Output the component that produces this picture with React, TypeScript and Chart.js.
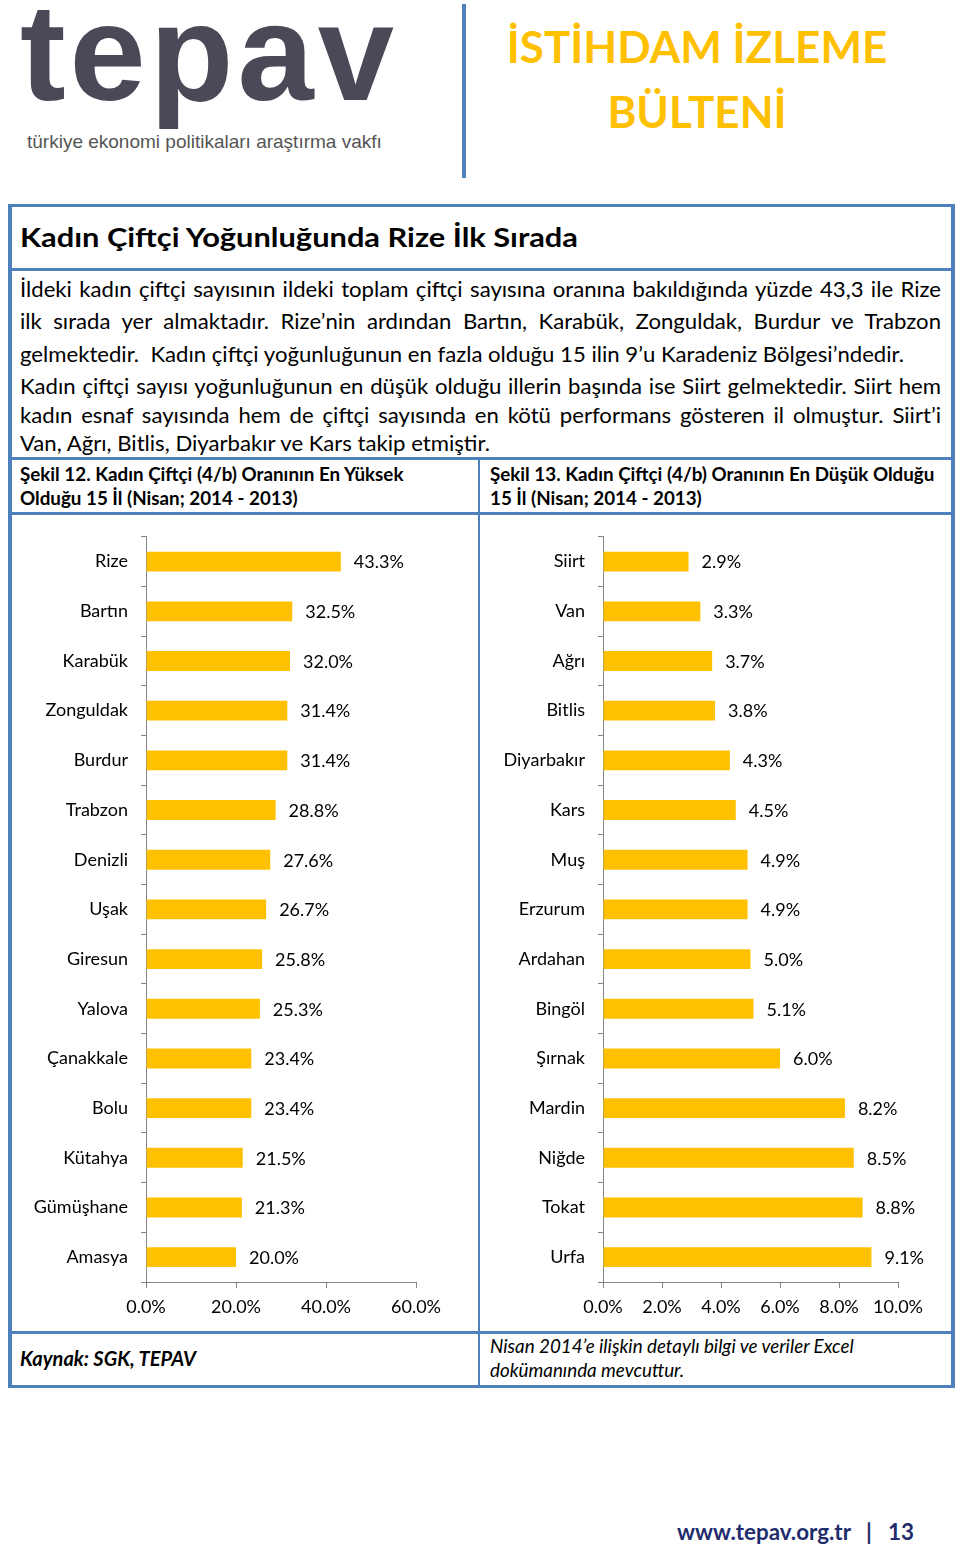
import React, { useEffect, useRef } from 'react';
import { Chart, registerables } from 'chart.js';

Chart.register(...registerables);

// ---- Data ----
const highCities = ['Rize', 'Bartın', 'Karabük', 'Zonguldak', 'Burdur', 'Trabzon', 'Denizli', 'Uşak', 'Giresun', 'Yalova', 'Çanakkale', 'Bolu', 'Kütahya', 'Gümüşhane', 'Amasya'];
const highValues = [43.3, 32.5, 32.0, 31.4, 31.4, 28.8, 27.6, 26.7, 25.8, 25.3, 23.4, 23.4, 21.5, 21.3, 20.0];
const highTicks = [0, 20, 40, 60];

const lowCities = ['Siirt', 'Van', 'Ağrı', 'Bitlis', 'Diyarbakır', 'Kars', 'Muş', 'Erzurum', 'Ardahan', 'Bingöl', 'Şırnak', 'Mardin', 'Niğde', 'Tokat', 'Urfa'];
const lowValues = [2.9, 3.3, 3.7, 3.8, 4.3, 4.5, 4.9, 4.9, 5.0, 5.1, 6.0, 8.2, 8.5, 8.8, 9.1];
const lowTicks = [0, 2, 4, 6, 8, 10];

const BAR = '#ffc000';
const AXIS = '#868686';
const BLUE = '#4f81bd';
const FONT = 'Lato';

const valueLabels = {
  id: 'valueLabels',
  afterDatasetsDraw(chart: any) {
    const ctx = chart.ctx;
    const meta = chart.getDatasetMeta(0);
    const data = chart.data.datasets[0].data as number[];
    ctx.save();
    ctx.font = `18px ${FONT}`;
    ctx.fillStyle = '#000';
    ctx.textAlign = 'left';
    ctx.textBaseline = 'middle';
    meta.data.forEach((bar: any, i: number) => {
      ctx.fillText(`${data[i].toFixed(1)}%`, bar.x + 13, bar.y + 1);
    });
    ctx.restore();
  },
};

type BarProps = {
  labels: string[];
  values: number[];
  ticks: number[];
  left: number;
  top: number;
  width: number;
  height: number;
  yWidth: number;
  padRight: number;
};

function HBar({ labels, values, ticks, left, top, width, height, yWidth, padRight }: BarProps) {
  const ref = useRef<HTMLCanvasElement>(null);
  useEffect(() => {
    if (!ref.current) return;
    const font = { family: FONT, size: 18 };
    const chart = new Chart(ref.current, {
      type: 'bar',
      data: {
        labels,
        datasets: [{ data: values, backgroundColor: BAR, barPercentage: 0.4, categoryPercentage: 1 }],
      },
      options: {
        indexAxis: 'y',
        animation: false,
        responsive: false,
        maintainAspectRatio: false,
        layout: { padding: { top: 0, right: padRight, left: 0, bottom: 0 } },
        plugins: { legend: { display: false }, tooltip: { enabled: false } },
        scales: {
          x: {
            min: ticks[0],
            max: ticks[ticks.length - 1],
            afterBuildTicks: (s: any) => {
              s.ticks = ticks.map((v) => ({ value: v }));
            },
            ticks: {
              font,
              color: '#000',
              padding: 8,
              maxRotation: 0,
              autoSkip: false,
              callback: (v: any) => `${Number(v).toFixed(1)}%`,
            },
            grid: { drawOnChartArea: false, tickLength: 6, color: AXIS },
            border: { color: AXIS },
            afterFit: (s: any) => {
              s.height = 39;
            },
          },
          y: {
            ticks: { font, color: '#000', padding: 13, autoSkip: false },
            grid: { drawOnChartArea: false, tickLength: 5, color: AXIS, offset: true },
            border: { color: AXIS },
            afterFit: (s: any) => {
              s.width = yWidth;
            },
          },
        },
      },
      plugins: [valueLabels],
    } as any);
    return () => chart.destroy();
  }, []);
  return (
    <canvas
      ref={ref}
      width={width}
      height={height}
      style={{ position: 'absolute', left, top, width, height }}
    />
  );
}

// Text helper: positions text by baseline (Lato: ascent .987, descent .213)
function T({
  x, base, size, children, weight = 400, italic = false, color = '#000', width, align, last, center, sx = 1, ls = 0,
}: any) {
  const lh = 1.2 * size;
  const style: React.CSSProperties = {
    position: 'absolute',
    top: base - 0.987 * size,
    fontFamily: FONT,
    fontSize: size,
    fontWeight: weight,
    fontStyle: italic ? 'italic' : 'normal',
    color,
    lineHeight: `${lh}px`,
    whiteSpace: width ? 'normal' : 'nowrap',
    letterSpacing: ls,
  };
  if (center !== undefined) {
    style.left = center - 300;
    style.width = 600;
    style.textAlign = 'center';
  } else {
    style.left = x;
  }
  if (width) {
    style.width = width / sx;
    style.textAlign = align || 'left';
    if (last) style.textAlignLast = last as any;
  }
  if (sx !== 1) {
    style.transform = `scaleX(${sx})`;
    style.transformOrigin = 'left top';
  }
  return <div style={style}>{children}</div>;
}

const Box = ({ l, t, w, h, c = BLUE }: any) => (
  <div style={{ position: 'absolute', left: l, top: t, width: w, height: h, background: c }} />
);

export default function App() {
  useEffect(() => {
    document.body.style.margin = '0';
    document.body.style.background = '#fff';
  }, []);
  const P = 20.5;
  const PS = 1.08;
  return (
    <div style={{ position: 'absolute', left: 0, top: 0, width: 960, height: 1549, background: '#fff', overflow: 'hidden' }}>
      {/* Header */}
      <div
        style={{
          position: 'absolute',
          left: 20,
          top: 100 - 0.905 * 137,
          fontFamily: '"Liberation Sans", Arial, sans-serif',
          fontWeight: 700,
          fontSize: 137,
          lineHeight: `${1.117 * 137}px`,
          letterSpacing: 4,
          color: '#4b4858',
          whiteSpace: 'nowrap',
        }}
      >
        tepav
      </div>
      <div
        style={{
          position: 'absolute',
          left: 27,
          top: 148 - 0.905 * 19,
          fontFamily: '"Liberation Sans", Arial, sans-serif',
          fontSize: 19,
          lineHeight: `${1.117 * 19}px`,
          color: '#555',
          whiteSpace: 'nowrap',
        }}
      >
        türkiye ekonomi politikaları araştırma vakfı
      </div>
      <Box l={462} t={4} w={4} h={174} c={BLUE} />
      <T center={697} base={63} size={44} weight={700} color="#ffc000">İSTİHDAM İZLEME</T>
      <T center={697} base={128} size={44} weight={700} color="#ffc000">BÜLTENİ</T>

      {/* Main box borders */}
      <Box l={8} t={204} w={947} h={3} />
      <Box l={8} t={1385} w={947} h={3} />
      <Box l={8} t={204} w={4} h={1184} />
      <Box l={951} t={204} w={4} h={1184} />
      <Box l={8} t={268} w={947} h={3} />
      <Box l={8} t={457} w={947} h={3} />
      <Box l={8} t={512} w={947} h={3} />
      <Box l={8} t={1331} w={947} h={3} />
      <Box l={478} t={460} w={2} h={52} />
      <Box l={478} t={515} w={2} h={816} />
      <Box l={478} t={1334} w={2} h={51} />

      <T x={20} base={248} size={26} weight={700} sx={1.185}>Kadın Çiftçi Yoğunluğunda Rize İlk Sırada</T>

      <T x={20} base={297} size={P} sx={PS} width={921} align="justify" last="justify">İldeki kadın çiftçi sayısının ildeki toplam çiftçi sayısına oranına bakıldığında yüzde 43,3 ile Rize</T>
      <T x={20} base={329.5} size={P} sx={PS} width={921} align="justify" last="justify">ilk sırada yer almaktadır. Rize’nin ardından Bartın, Karabük, Zonguldak, Burdur ve Trabzon</T>
      <T x={20} base={362} size={P} sx={PS}>gelmektedir.&nbsp; Kadın çiftçi yoğunluğunun en fazla olduğu 15 ilin 9’u Karadeniz Bölgesi’ndedir.</T>
      <T x={20} base={394} size={P} sx={PS} width={921} align="justify" last="justify">Kadın çiftçi sayısı yoğunluğunun en düşük olduğu illerin başında ise Siirt gelmektedir. Siirt hem</T>
      <T x={20} base={423.5} size={P} sx={PS} width={921} align="justify" last="justify">kadın esnaf sayısında hem de çiftçi sayısında en kötü performans gösteren il olmuştur. Siirt’i</T>
      <T x={20} base={451.5} size={P} sx={PS}>Van, Ağrı, Bitlis, Diyarbakır ve Kars takip etmiştir.</T>

      <T x={20} base={482} size={18.8} weight={700}>Şekil 12. Kadın Çiftçi (4/b) Oranının En Yüksek</T>
      <T x={20} base={506} size={18.8} weight={700}>Olduğu 15 İl (Nisan; 2014 - 2013)</T>
      <T x={490} base={482} size={18.8} weight={700}>Şekil 13. Kadın Çiftçi (4/b) Oranının En Düşük Olduğu</T>
      <T x={490} base={506} size={18.8} weight={700}>15 İl (Nisan; 2014 - 2013)</T>

      <HBar labels={highCities} values={highValues} ticks={highTicks} left={12} top={513} width={456} height={808} yWidth={134} padRight={52} />
      <HBar labels={lowCities} values={lowValues} ticks={lowTicks} left={482} top={513} width={468} height={808} yWidth={121} padRight={52} />

      <T x={20} base={1366} size={20} weight={700} italic>Kaynak: SGK, TEPAV</T>
      <T x={490} base={1354} size={18.8} italic>Nisan 2014’e ilişkin detaylı bilgi ve veriler Excel</T>
      <T x={490} base={1378} size={18.8} italic>dokümanında mevcuttur.</T>

      {/* Footer */}
      <T x={677} base={1541} size={22.4} weight={700} color="#1f2d6d">www.tepav.org.tr</T>
      <T x={866} base={1541} size={22.4} weight={700} color="#1f2d6d">|</T>
      <T x={888} base={1541} size={22.4} weight={700} color="#1f2d6d">13</T>
    </div>
  );
}
